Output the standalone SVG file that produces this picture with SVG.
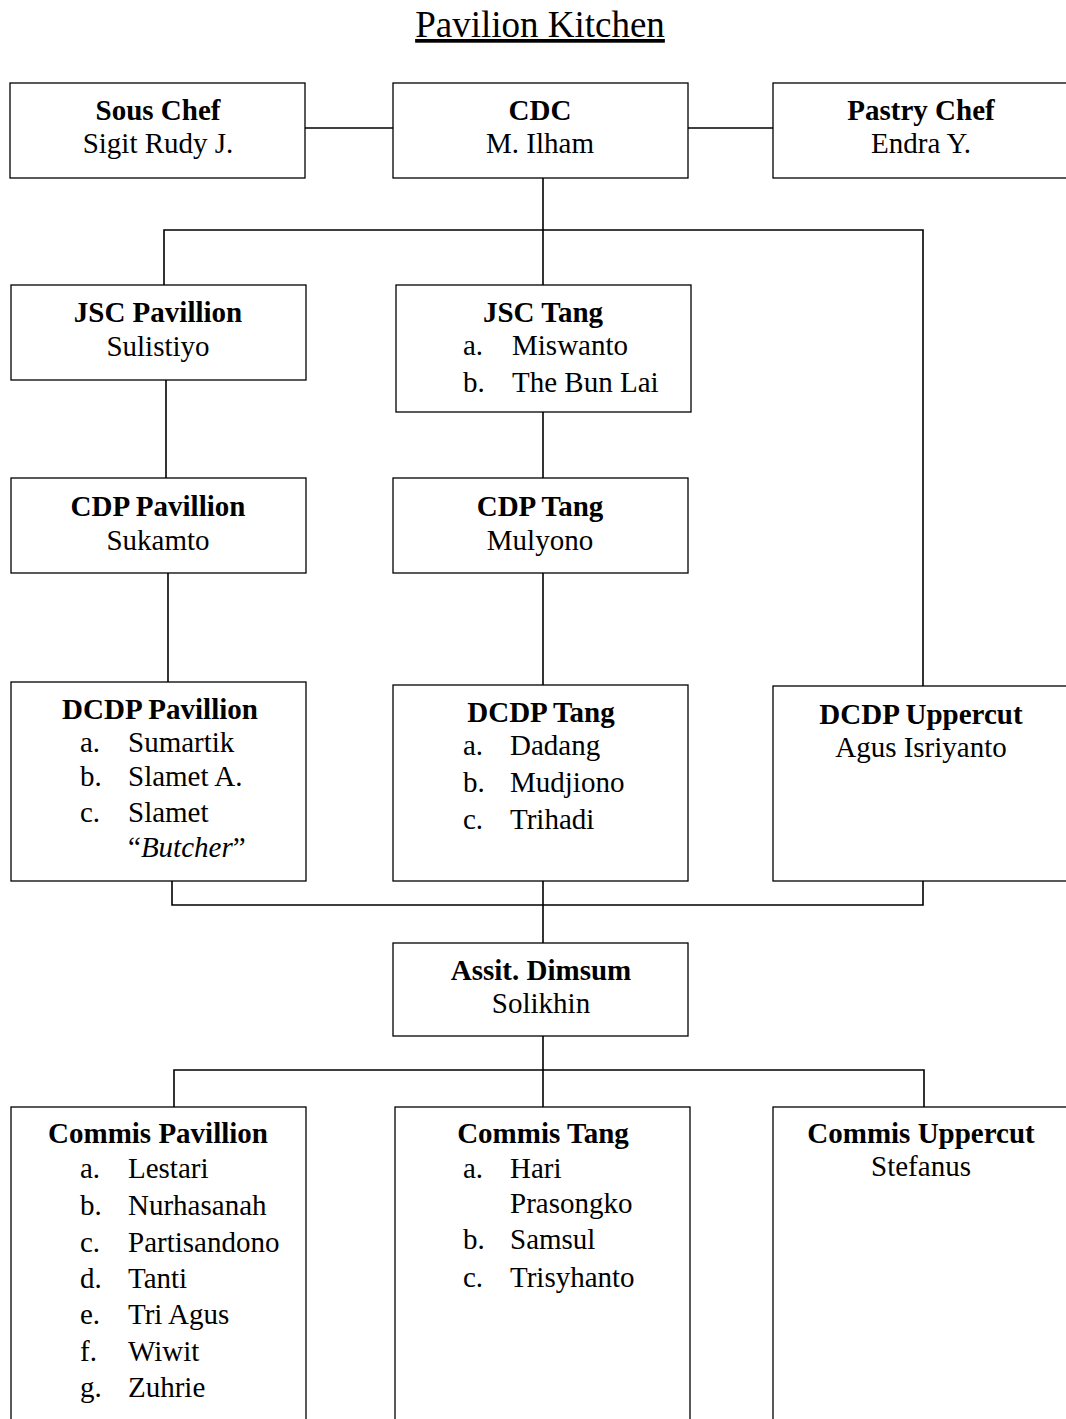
<svg xmlns="http://www.w3.org/2000/svg" width="1066" height="1419" viewBox="0 0 1066 1419">
<style>
  .box{fill:#fff;stroke:#000;stroke-width:1.3}
  .c{stroke:#000;stroke-width:1.6;fill:none}
  text{font-family:"Liberation Serif","Times New Roman",serif;font-size:29px;fill:#000}
  .b{font-weight:bold}
  .m{text-anchor:middle}
  .title{font-size:37px;text-decoration:underline}
</style>
<rect width="1066" height="1419" fill="#fff"/>
<text class="title m" x="540" y="37">Pavilion Kitchen</text>

<g id="connectors">
  <line class="c" x1="305" y1="128" x2="393" y2="128"/>
  <line class="c" x1="688" y1="128" x2="773" y2="128"/>
  <line class="c" x1="543" y1="178" x2="543" y2="285"/>
  <polyline class="c" points="164,285 164,230 923,230 923,686"/>
  <line class="c" x1="166" y1="380" x2="166" y2="478"/>
  <line class="c" x1="543" y1="412" x2="543" y2="478"/>
  <line class="c" x1="168" y1="573" x2="168" y2="682"/>
  <line class="c" x1="543" y1="573" x2="543" y2="685"/>
  <polyline class="c" points="172,881 172,905 923,905 923,881"/>
  <line class="c" x1="543" y1="881" x2="543" y2="943"/>
  <line class="c" x1="543" y1="1036" x2="543" y2="1107"/>
  <polyline class="c" points="174,1107 174,1070 924,1070 924,1107"/>
</g>

<g id="sous-chef">
  <rect class="box" x="10" y="83" width="295" height="95"/>
  <text class="b m" x="158" y="120">Sous Chef</text>
  <text class="m" x="158" y="153">Sigit Rudy J.</text>
</g>
<g id="cdc">
  <rect class="box" x="393" y="83" width="295" height="95"/>
  <text class="b m" x="540" y="120">CDC</text>
  <text class="m" x="540" y="153">M. Ilham</text>
</g>
<g id="pastry-chef">
  <rect class="box" x="773" y="83" width="300" height="95"/>
  <text class="b m" x="921" y="120">Pastry Chef</text>
  <text class="m" x="921" y="153">Endra Y.</text>
</g>

<g id="jsc-pavillion">
  <rect class="box" x="11" y="285" width="295" height="95"/>
  <text class="b m" x="158" y="322">JSC Pavillion</text>
  <text class="m" x="158" y="356">Sulistiyo</text>
</g>
<g id="jsc-tang">
  <rect class="box" x="396" y="285" width="295" height="127"/>
  <text class="b m" x="543" y="322">JSC Tang</text>
  <text x="463" y="355">a.</text><text x="512" y="355">Miswanto</text>
  <text x="463" y="392">b.</text><text x="512" y="392">The Bun Lai</text>
</g>

<g id="cdp-pavillion">
  <rect class="box" x="11" y="478" width="295" height="95"/>
  <text class="b m" x="158" y="516">CDP Pavillion</text>
  <text class="m" x="158" y="550">Sukamto</text>
</g>
<g id="cdp-tang">
  <rect class="box" x="393" y="478" width="295" height="95"/>
  <text class="b m" x="540" y="516">CDP Tang</text>
  <text class="m" x="540" y="550">Mulyono</text>
</g>

<g id="dcdp-pavillion">
  <rect class="box" x="11" y="682" width="295" height="199"/>
  <text class="b m" x="160" y="719">DCDP Pavillion</text>
  <text x="80" y="752">a.</text><text x="128" y="752">Sumartik</text>
  <text x="80" y="786">b.</text><text x="128" y="786">Slamet A.</text>
  <text x="80" y="822">c.</text><text x="128" y="822">Slamet</text>
  <text x="128" y="857">“<tspan font-style="italic">Butcher</tspan>”</text>
</g>
<g id="dcdp-tang">
  <rect class="box" x="393" y="685" width="295" height="196"/>
  <text class="b m" x="541" y="722">DCDP Tang</text>
  <text x="463" y="755">a.</text><text x="510" y="755">Dadang</text>
  <text x="463" y="792">b.</text><text x="510" y="792">Mudjiono</text>
  <text x="463" y="829">c.</text><text x="510" y="829">Trihadi</text>
</g>
<g id="dcdp-uppercut">
  <rect class="box" x="773" y="686" width="300" height="195"/>
  <text class="b m" x="921" y="724">DCDP Uppercut</text>
  <text class="m" x="921" y="757">Agus Isriyanto</text>
</g>

<g id="assit-dimsum">
  <rect class="box" x="393" y="943" width="295" height="93"/>
  <text class="b m" x="541" y="980">Assit. Dimsum</text>
  <text class="m" x="541" y="1013">Solikhin</text>
</g>

<g id="commis-pavillion">
  <rect class="box" x="11" y="1107" width="295" height="330"/>
  <text class="b m" x="158" y="1143">Commis Pavillion</text>
  <text x="80" y="1178">a.</text><text x="128" y="1178">Lestari</text>
  <text x="80" y="1215">b.</text><text x="128" y="1215">Nurhasanah</text>
  <text x="80" y="1252">c.</text><text x="128" y="1252">Partisandono</text>
  <text x="80" y="1288">d.</text><text x="128" y="1288">Tanti</text>
  <text x="80" y="1324">e.</text><text x="128" y="1324">Tri Agus</text>
  <text x="80" y="1361">f.</text><text x="128" y="1361">Wiwit</text>
  <text x="80" y="1397">g.</text><text x="128" y="1397">Zuhrie</text>
</g>
<g id="commis-tang">
  <rect class="box" x="395" y="1107" width="295" height="330"/>
  <text class="b m" x="543" y="1143">Commis Tang</text>
  <text x="463" y="1178">a.</text><text x="510" y="1178">Hari</text>
  <text x="510" y="1213">Prasongko</text>
  <text x="463" y="1249">b.</text><text x="510" y="1249">Samsul</text>
  <text x="463" y="1287">c.</text><text x="510" y="1287">Trisyhanto</text>
</g>
<g id="commis-uppercut">
  <rect class="box" x="773" y="1107" width="300" height="330"/>
  <text class="b m" x="921" y="1143">Commis Uppercut</text>
  <text class="m" x="921" y="1176">Stefanus</text>
</g>
</svg>
